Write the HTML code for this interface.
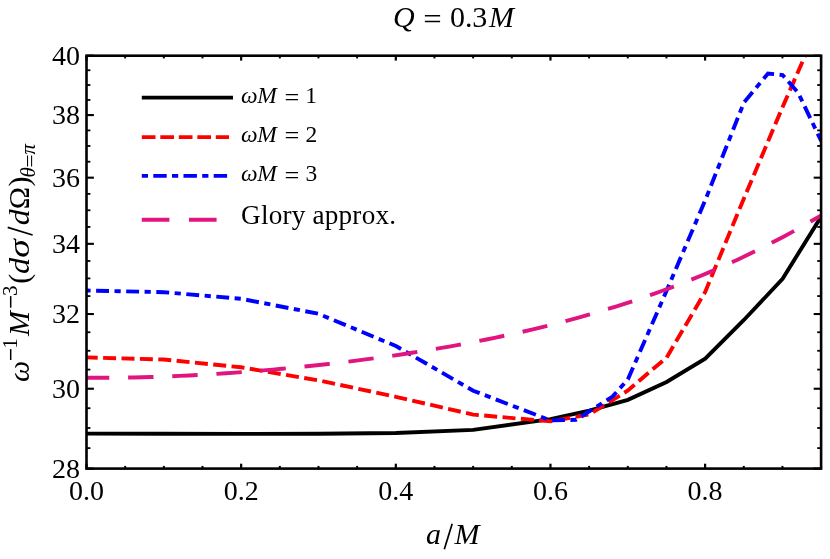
<!DOCTYPE html>
<html><head><meta charset="utf-8"><title>chart</title>
<style>
html,body{margin:0;padding:0;background:#fff;}
body{width:830px;height:559px;overflow:hidden;font-family:"Liberation Serif",serif;}
svg{display:block;will-change:transform;}
text{font-family:"Liberation Serif",serif;fill:#000;}
.i{font-style:italic;}
</style></head><body>
<svg width="830" height="559" viewBox="0 0 830 559">
<rect width="830" height="559" fill="#fff"/>
<defs><clipPath id="c"><rect x="86.5" y="55.7" width="734.6" height="412.90000000000003"/></clipPath></defs>
<g clip-path="url(#c)" fill="none" stroke-linejoin="miter">
<polyline points="86.5,433.6 163.8,433.8 241.2,433.9 318.5,433.8 395.9,433.0 473.2,429.9 550.5,419.2 589.2,410.7 627.9,399.8 666.6,382.0 705.2,358.6 743.9,320.0 782.6,278.8 821.2,216.5" stroke="#000" stroke-width="3.9"/>
<polyline points="86.5,357.4 163.8,359.5 241.2,367.3 318.5,380.4 395.9,396.8 473.2,414.6 550.5,421.4 589.2,414.5 627.9,390.5 666.6,357.5 705.2,291.9 743.9,198.5 782.6,107.0 821.2,19.0" stroke="#ff0000" stroke-width="3.9" stroke-dasharray="13 5.4" stroke-dashoffset="1.8"/>
<polyline points="86.5,290.5 163.8,292.2 241.2,298.8 318.5,313.8 395.9,346.0 473.2,390.7 550.5,420.4 576.0,419.8 612.5,396.6 627.9,379.4 666.6,290.7 705.2,200.3 743.9,102.5 768.0,73.6 782.6,75.0 798.0,92.5 821.2,141.0" stroke="#0000ff" stroke-width="3.9" stroke-dasharray="6.2 5.5 12.9 5.5" stroke-dashoffset="2.1"/>
<polyline points="86.5,377.7 95.8,377.8 105.1,377.8 114.4,377.7 123.7,377.6 133.0,377.5 142.3,377.3 151.6,377.0 160.9,376.7 170.2,376.3 179.5,375.9 188.8,375.5 198.1,375.0 207.4,374.5 216.7,373.9 226.0,373.3 235.3,372.6 244.6,371.9 253.9,371.2 263.2,370.4 272.5,369.6 281.8,368.8 291.1,367.9 300.4,367.0 309.7,366.0 319.0,365.0 328.3,364.0 337.6,362.9 346.9,361.8 356.2,360.6 365.5,359.4 374.8,358.2 384.1,356.9 393.4,355.6 402.7,354.2 412.0,352.8 421.3,351.3 430.6,349.8 439.9,348.2 449.2,346.6 458.5,344.9 467.8,343.2 477.1,341.4 486.4,339.5 495.7,337.6 505.0,335.6 514.3,333.6 523.6,331.5 532.9,329.3 542.2,327.1 551.5,324.8 560.8,322.4 570.1,319.9 579.4,317.4 588.7,314.7 598.0,312.0 607.3,309.2 616.6,306.4 625.9,303.4 635.2,300.3 644.5,297.1 653.8,293.9 663.1,290.5 672.4,287.1 681.7,283.5 691.0,279.8 700.3,276.0 709.6,272.1 718.9,268.1 728.2,263.9 737.5,259.7 746.8,255.3 756.1,250.8 765.4,246.1 774.7,241.3 784.0,236.4 793.3,231.4 802.6,226.2 811.9,220.8 821.2,215.4" stroke="#e0157f" stroke-width="3.9" stroke-dasharray="25.4 18.8" stroke-dashoffset="2.6"/>
</g>
<g stroke="#000" fill="none">
<rect x="86.5" y="55.7" width="734.6" height="412.90000000000003" stroke-width="2.6"/>
<line x1="86.5" y1="468.60" x2="93.9" y2="468.60" stroke-width="2.1"/><line x1="821.1" y1="468.60" x2="813.7" y2="468.60" stroke-width="2.1"/><line x1="86.5" y1="448.11" x2="90.4" y2="448.11" stroke-width="1.8"/><line x1="821.1" y1="448.11" x2="817.2" y2="448.11" stroke-width="1.8"/><line x1="86.5" y1="427.98" x2="90.4" y2="427.98" stroke-width="1.8"/><line x1="821.1" y1="427.98" x2="817.2" y2="427.98" stroke-width="1.8"/><line x1="86.5" y1="408.19" x2="90.4" y2="408.19" stroke-width="1.8"/><line x1="821.1" y1="408.19" x2="817.2" y2="408.19" stroke-width="1.8"/><line x1="86.5" y1="388.73" x2="93.9" y2="388.73" stroke-width="2.1"/><line x1="821.1" y1="388.73" x2="813.7" y2="388.73" stroke-width="2.1"/><line x1="86.5" y1="369.60" x2="90.4" y2="369.60" stroke-width="1.8"/><line x1="821.1" y1="369.60" x2="817.2" y2="369.60" stroke-width="1.8"/><line x1="86.5" y1="350.77" x2="90.4" y2="350.77" stroke-width="1.8"/><line x1="821.1" y1="350.77" x2="817.2" y2="350.77" stroke-width="1.8"/><line x1="86.5" y1="332.25" x2="90.4" y2="332.25" stroke-width="1.8"/><line x1="821.1" y1="332.25" x2="817.2" y2="332.25" stroke-width="1.8"/><line x1="86.5" y1="314.02" x2="93.9" y2="314.02" stroke-width="2.1"/><line x1="821.1" y1="314.02" x2="813.7" y2="314.02" stroke-width="2.1"/><line x1="86.5" y1="296.07" x2="90.4" y2="296.07" stroke-width="1.8"/><line x1="821.1" y1="296.07" x2="817.2" y2="296.07" stroke-width="1.8"/><line x1="86.5" y1="278.40" x2="90.4" y2="278.40" stroke-width="1.8"/><line x1="821.1" y1="278.40" x2="817.2" y2="278.40" stroke-width="1.8"/><line x1="86.5" y1="260.99" x2="90.4" y2="260.99" stroke-width="1.8"/><line x1="821.1" y1="260.99" x2="817.2" y2="260.99" stroke-width="1.8"/><line x1="86.5" y1="243.84" x2="93.9" y2="243.84" stroke-width="2.1"/><line x1="821.1" y1="243.84" x2="813.7" y2="243.84" stroke-width="2.1"/><line x1="86.5" y1="226.94" x2="90.4" y2="226.94" stroke-width="1.8"/><line x1="821.1" y1="226.94" x2="817.2" y2="226.94" stroke-width="1.8"/><line x1="86.5" y1="210.28" x2="90.4" y2="210.28" stroke-width="1.8"/><line x1="821.1" y1="210.28" x2="817.2" y2="210.28" stroke-width="1.8"/><line x1="86.5" y1="193.86" x2="90.4" y2="193.86" stroke-width="1.8"/><line x1="821.1" y1="193.86" x2="817.2" y2="193.86" stroke-width="1.8"/><line x1="86.5" y1="177.67" x2="93.9" y2="177.67" stroke-width="2.1"/><line x1="821.1" y1="177.67" x2="813.7" y2="177.67" stroke-width="2.1"/><line x1="86.5" y1="161.70" x2="90.4" y2="161.70" stroke-width="1.8"/><line x1="821.1" y1="161.70" x2="817.2" y2="161.70" stroke-width="1.8"/><line x1="86.5" y1="145.95" x2="90.4" y2="145.95" stroke-width="1.8"/><line x1="821.1" y1="145.95" x2="817.2" y2="145.95" stroke-width="1.8"/><line x1="86.5" y1="130.41" x2="90.4" y2="130.41" stroke-width="1.8"/><line x1="821.1" y1="130.41" x2="817.2" y2="130.41" stroke-width="1.8"/><line x1="86.5" y1="115.08" x2="93.9" y2="115.08" stroke-width="2.1"/><line x1="821.1" y1="115.08" x2="813.7" y2="115.08" stroke-width="2.1"/><line x1="86.5" y1="99.95" x2="90.4" y2="99.95" stroke-width="1.8"/><line x1="821.1" y1="99.95" x2="817.2" y2="99.95" stroke-width="1.8"/><line x1="86.5" y1="85.01" x2="90.4" y2="85.01" stroke-width="1.8"/><line x1="821.1" y1="85.01" x2="817.2" y2="85.01" stroke-width="1.8"/><line x1="86.5" y1="70.26" x2="90.4" y2="70.26" stroke-width="1.8"/><line x1="821.1" y1="70.26" x2="817.2" y2="70.26" stroke-width="1.8"/><line x1="86.5" y1="55.70" x2="93.9" y2="55.70" stroke-width="2.1"/><line x1="821.1" y1="55.70" x2="813.7" y2="55.70" stroke-width="2.1"/><line x1="86.50" y1="468.6" x2="86.50" y2="463.70000000000005" stroke-width="2.2"/><line x1="86.50" y1="55.7" x2="86.50" y2="60.6" stroke-width="2.2"/><line x1="125.16" y1="468.6" x2="125.16" y2="465.90000000000003" stroke-width="2.0"/><line x1="125.16" y1="55.7" x2="125.16" y2="58.400000000000006" stroke-width="2.0"/><line x1="163.83" y1="468.6" x2="163.83" y2="465.90000000000003" stroke-width="2.0"/><line x1="163.83" y1="55.7" x2="163.83" y2="58.400000000000006" stroke-width="2.0"/><line x1="202.49" y1="468.6" x2="202.49" y2="465.90000000000003" stroke-width="2.0"/><line x1="202.49" y1="55.7" x2="202.49" y2="58.400000000000006" stroke-width="2.0"/><line x1="241.15" y1="468.6" x2="241.15" y2="463.70000000000005" stroke-width="2.2"/><line x1="241.15" y1="55.7" x2="241.15" y2="60.6" stroke-width="2.2"/><line x1="279.82" y1="468.6" x2="279.82" y2="465.90000000000003" stroke-width="2.0"/><line x1="279.82" y1="55.7" x2="279.82" y2="58.400000000000006" stroke-width="2.0"/><line x1="318.48" y1="468.6" x2="318.48" y2="465.90000000000003" stroke-width="2.0"/><line x1="318.48" y1="55.7" x2="318.48" y2="58.400000000000006" stroke-width="2.0"/><line x1="357.14" y1="468.6" x2="357.14" y2="465.90000000000003" stroke-width="2.0"/><line x1="357.14" y1="55.7" x2="357.14" y2="58.400000000000006" stroke-width="2.0"/><line x1="395.81" y1="468.6" x2="395.81" y2="463.70000000000005" stroke-width="2.2"/><line x1="395.81" y1="55.7" x2="395.81" y2="60.6" stroke-width="2.2"/><line x1="434.47" y1="468.6" x2="434.47" y2="465.90000000000003" stroke-width="2.0"/><line x1="434.47" y1="55.7" x2="434.47" y2="58.400000000000006" stroke-width="2.0"/><line x1="473.13" y1="468.6" x2="473.13" y2="465.90000000000003" stroke-width="2.0"/><line x1="473.13" y1="55.7" x2="473.13" y2="58.400000000000006" stroke-width="2.0"/><line x1="511.79" y1="468.6" x2="511.79" y2="465.90000000000003" stroke-width="2.0"/><line x1="511.79" y1="55.7" x2="511.79" y2="58.400000000000006" stroke-width="2.0"/><line x1="550.46" y1="468.6" x2="550.46" y2="463.70000000000005" stroke-width="2.2"/><line x1="550.46" y1="55.7" x2="550.46" y2="60.6" stroke-width="2.2"/><line x1="589.12" y1="468.6" x2="589.12" y2="465.90000000000003" stroke-width="2.0"/><line x1="589.12" y1="55.7" x2="589.12" y2="58.400000000000006" stroke-width="2.0"/><line x1="627.78" y1="468.6" x2="627.78" y2="465.90000000000003" stroke-width="2.0"/><line x1="627.78" y1="55.7" x2="627.78" y2="58.400000000000006" stroke-width="2.0"/><line x1="666.45" y1="468.6" x2="666.45" y2="465.90000000000003" stroke-width="2.0"/><line x1="666.45" y1="55.7" x2="666.45" y2="58.400000000000006" stroke-width="2.0"/><line x1="705.11" y1="468.6" x2="705.11" y2="463.70000000000005" stroke-width="2.2"/><line x1="705.11" y1="55.7" x2="705.11" y2="60.6" stroke-width="2.2"/><line x1="743.77" y1="468.6" x2="743.77" y2="465.90000000000003" stroke-width="2.0"/><line x1="743.77" y1="55.7" x2="743.77" y2="58.400000000000006" stroke-width="2.0"/><line x1="782.44" y1="468.6" x2="782.44" y2="465.90000000000003" stroke-width="2.0"/><line x1="782.44" y1="55.7" x2="782.44" y2="58.400000000000006" stroke-width="2.0"/><line x1="821.10" y1="468.6" x2="821.10" y2="465.90000000000003" stroke-width="2.0"/><line x1="821.10" y1="55.7" x2="821.10" y2="58.400000000000006" stroke-width="2.0"/>
</g>
<g fill="none" stroke-width="3.9">
<line x1="141.8" y1="97.6" x2="233" y2="97.6" stroke="#000"/>
<line x1="141.8" y1="137.1" x2="229" y2="137.1" stroke="#ff0000" stroke-dasharray="13.7 4.8"/>
<line x1="141.8" y1="175.9" x2="227.2" y2="175.9" stroke="#0000ff" stroke-dasharray="6.2 5.3 13.4 5.3"/>
<line x1="141.8" y1="219.8" x2="217" y2="219.8" stroke="#e0157f" stroke-dasharray="27.6 19.6"/>
</g>
<g font-size="23.5">
<text x="241.0" y="103" class="i">ω</text><text x="257.3" y="103" class="i">M</text><text transform="translate(284.5,104.75) scale(1.12,1)">=</text><text x="305.25" y="103">1</text><text x="241.0" y="141.6" class="i">ω</text><text x="257.3" y="141.6" class="i">M</text><text transform="translate(284.5,143.35) scale(1.12,1)">=</text><text x="305.55" y="141.6">2</text><text x="241.0" y="181" class="i">ω</text><text x="257.3" y="181" class="i">M</text><text transform="translate(284.5,182.75) scale(1.12,1)">=</text><text x="305.6" y="181">3</text>
</g>
<text x="241.1" y="223.7" font-size="27.2" letter-spacing="0.2">Glory approx.</text>
<g font-size="30">
<text x="393.1" y="26.8" class="i">Q</text><text transform="translate(423.2,29.2) scale(1.09,1)">=</text><text x="449.95" y="26.8">0</text><text x="465.1" y="26.8">.</text><text x="472.3" y="26.8">3</text><text x="488.9" y="26.8" class="i">M</text>
<text x="426.1" y="544.3" class="i">a</text><text x="454.45" y="544.3" class="i">M</text>
</g>
<line x1="444.3" y1="549.2" x2="452.2" y2="523.8" stroke="#000" stroke-width="1.7"/>
<text x="80" y="477.6" text-anchor="end" font-size="28">28</text><text x="80" y="397.7" text-anchor="end" font-size="28">30</text><text x="80" y="323.0" text-anchor="end" font-size="28">32</text><text x="80" y="252.8" text-anchor="end" font-size="28">34</text><text x="80" y="186.7" text-anchor="end" font-size="28">36</text><text x="80" y="124.1" text-anchor="end" font-size="28">38</text><text x="80" y="64.7" text-anchor="end" font-size="28">40</text>
<text x="86.5" y="500.3" text-anchor="middle" font-size="28">0.0</text><text x="241.2" y="500.3" text-anchor="middle" font-size="28">0.2</text><text x="395.8" y="500.3" text-anchor="middle" font-size="28">0.4</text><text x="550.5" y="500.3" text-anchor="middle" font-size="28">0.6</text><text x="705.1" y="500.3" text-anchor="middle" font-size="28">0.8</text>
<g transform="translate(29.2,381) rotate(-90)" font-size="30">
<text x="-0.9" y="0" class="i">ω</text>
<line x1="21" y1="-18.5" x2="31.9" y2="-18.5" stroke="#000" stroke-width="1.5"/>
<text x="32.15" y="-12.6" font-size="21">1</text>
<text x="45.1" y="0" class="i">M</text>
<line x1="73.3" y1="-18.5" x2="84.9" y2="-18.5" stroke="#000" stroke-width="1.5"/>
<text x="84.9" y="-12.6" font-size="21">3</text>
<text x="97.3" y="0">(</text>
<text transform="translate(106.9,0) scale(1.08,1)" class="i">d</text>
<text transform="translate(123.3,0) scale(1.25,1)" class="i">σ</text>
<line x1="146" y1="3.4" x2="153.6" y2="-21.5" stroke="#000" stroke-width="1.7"/>
<text transform="translate(155.7,0) scale(1.06,1)" class="i">d</text>
<text x="171.65" y="0">Ω</text>
<text x="194.5" y="0">)</text>
<text x="203.6" y="5.8" font-size="21" class="i">θ</text>
<text transform="translate(213.3,7.4) scale(1.14,1)" font-size="21">=</text>
<text x="226.5" y="5.8" font-size="21" class="i">π</text>
</g>
</svg>
</body></html>
